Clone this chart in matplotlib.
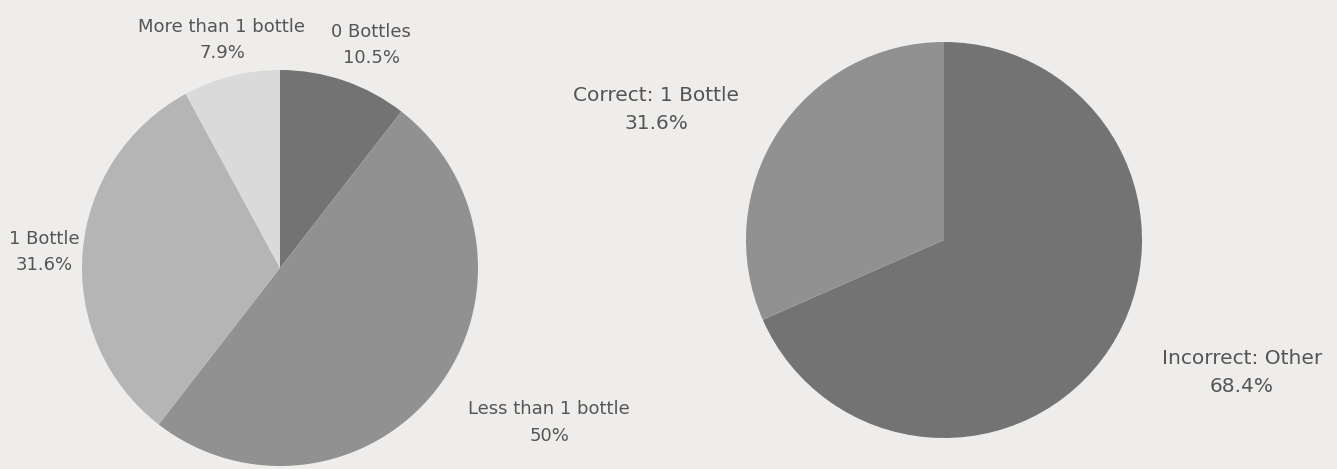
import matplotlib
matplotlib.use("Agg")
import matplotlib.pyplot as plt

# bottles consumed per day
bottle_labels = ["0 Bottles", "Less than 1 bottle", "1 Bottle", "More than 1 bottle"]
bottle_pct = [10.5, 50, 31.6, 7.9]
bottle_colors = ["#737373", "#919191", "#b5b5b5", "#dadada"]

# answer to the quiz question
answer_labels = ["Incorrect: Other", "Correct: 1 Bottle"]
answer_pct = [68.4, 31.6]
answer_colors = ["#737373", "#919191"]

bg = "#eeedeb"
txt = "#555555"
plt.rcParams["font.family"] = ["DejaVu Sans"]

W, H = 1337, 469
fig = plt.figure(figsize=(W / 100, H / 100), dpi=100, facecolor=bg)


def pie_axes(cx, cy, r):
    # axes box in pixel coords (y from top) -> figure fraction
    return fig.add_axes([(cx - r) / W, (H - cy - r) / H, 2 * r / W, 2 * r / H])


def fmt(v):
    return f"{v:g}%"


def draw(ax, values, labels, colors, label_pos, size):
    ax.set_facecolor(bg)
    ax.pie(values, colors=colors, startangle=90, counterclock=False,
           radius=1, wedgeprops=dict(linewidth=0))
    for lab, v, (x, y) in zip(labels, values, label_pos):
        ax.text(x, y, f"{lab}\n{fmt(v)}", ha="center", va="center",
                fontsize=size, color=txt, linespacing=1.6, clip_on=False)
    ax.set_xlim(-1, 1)
    ax.set_ylim(-1, 1)
    ax.set_aspect("equal")
    ax.axis("off")


ax1 = pie_axes(280, 268, 198)
draw(ax1, bottle_pct, bottle_labels, bottle_colors,
     [(0.46, 1.126), (1.36, -0.78), (-1.19, 0.08), (-0.293, 1.15)], 13)

ax2 = pie_axes(944, 240, 198)
draw(ax2, answer_pct, answer_labels, answer_colors,
     [(1.505, -0.667), (-1.455, 0.657)], 14.5)

fig.savefig("out.png", dpi=100, facecolor=bg)
